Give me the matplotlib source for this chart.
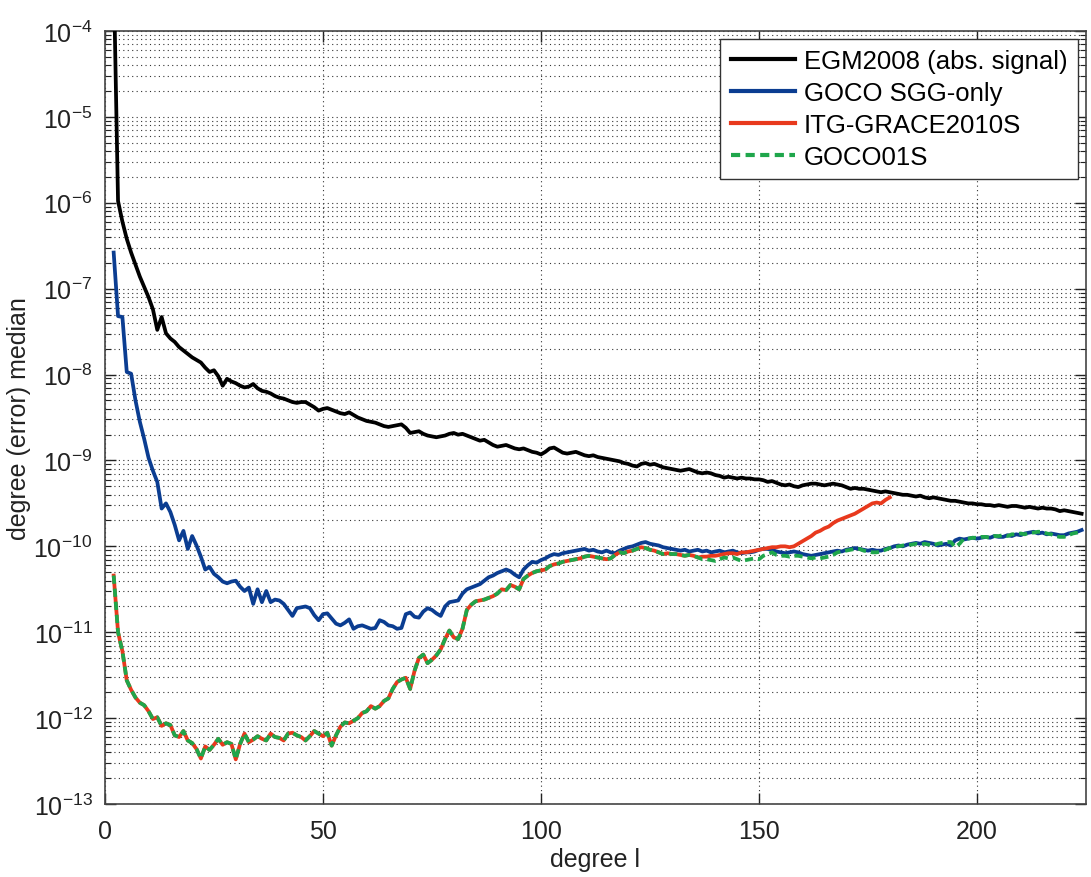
import numpy as np
import matplotlib
matplotlib.use("Agg")
import matplotlib.pyplot as plt
from matplotlib.ticker import FixedLocator, NullFormatter, LogFormatterSciNotation

# ---- data (log10 of degree (error) median), degrees start at 2 ----
egm2008_log = [
    -3.30, -5.98, -6.22, -6.42, -6.58, -6.72, -6.86, -6.98, -7.10, -7.24,
    -7.48, -7.33, -7.52, -7.58, -7.62, -7.68, -7.72, -7.76, -7.80, -7.83,
    -7.86, -7.92, -7.97, -7.95, -8.02, -8.13, -8.05, -8.08, -8.10, -8.13,
    -8.15, -8.14, -8.11, -8.16, -8.19, -8.20, -8.22, -8.25, -8.27, -8.28,
    -8.30, -8.32, -8.33, -8.32, -8.32, -8.35, -8.38, -8.42, -8.40, -8.39,
    -8.41, -8.43, -8.45, -8.46, -8.44, -8.47, -8.50, -8.52, -8.54, -8.55,
    -8.56, -8.58, -8.60, -8.61, -8.60, -8.59, -8.58, -8.62, -8.68, -8.67,
    -8.66, -8.69, -8.71, -8.72, -8.73, -8.72, -8.71, -8.69, -8.68, -8.70,
    -8.69, -8.71, -8.73, -8.75, -8.77, -8.76, -8.79, -8.82, -8.84, -8.83,
    -8.82, -8.84, -8.86, -8.87, -8.86, -8.88, -8.90, -8.91, -8.93, -8.90,
    -8.86, -8.85, -8.88, -8.91, -8.92, -8.91, -8.90, -8.92, -8.94, -8.95,
    -8.94, -8.96, -8.97, -8.98, -8.99, -9.00, -9.01, -9.03, -9.04, -9.06,
    -9.07, -9.04, -9.03, -9.05, -9.04, -9.06, -9.08, -9.09, -9.10, -9.11,
    -9.12, -9.11, -9.10, -9.12, -9.14, -9.15, -9.14, -9.15, -9.17, -9.18,
    -9.20, -9.19, -9.20, -9.21, -9.20, -9.21, -9.21, -9.22, -9.22, -9.23,
    -9.25, -9.24, -9.26, -9.28, -9.29, -9.28, -9.30, -9.31, -9.29, -9.28,
    -9.27, -9.27, -9.28, -9.29, -9.28, -9.27, -9.28, -9.29, -9.31, -9.33,
    -9.32, -9.33, -9.33, -9.34, -9.35, -9.36, -9.37, -9.36, -9.37, -9.38,
    -9.39, -9.40, -9.40, -9.41, -9.42, -9.41, -9.43, -9.44, -9.43, -9.44,
    -9.45, -9.46, -9.47, -9.47, -9.48, -9.49, -9.50, -9.50, -9.51, -9.51,
    -9.52, -9.52, -9.53, -9.52, -9.53, -9.54, -9.53, -9.53, -9.54, -9.55,
    -9.54, -9.55, -9.56, -9.55, -9.56, -9.56, -9.57, -9.59, -9.58, -9.59,
    -9.60, -9.61, -9.62,
]

goco_sgg_log = [
    -6.58, -7.32, -7.33, -7.97, -7.99, -8.30, -8.55, -8.75, -8.97, -9.12,
    -9.25, -9.56, -9.50, -9.60, -9.75, -9.93, -9.82, -10.03, -9.88, -9.99,
    -10.12, -10.27, -10.24, -10.32, -10.36, -10.41, -10.43, -10.41, -10.40, -10.47,
    -10.52, -10.48, -10.67, -10.50, -10.65, -10.52, -10.65, -10.62, -10.63, -10.67,
    -10.74, -10.81, -10.72, -10.71, -10.70, -10.72, -10.80, -10.86, -10.79, -10.78,
    -10.84, -10.90, -10.92, -10.89, -10.85, -10.96, -10.93, -10.92, -10.94, -10.96,
    -10.95, -10.86, -10.88, -10.92, -10.93, -10.96, -10.95, -10.79, -10.77, -10.82,
    -10.83, -10.76, -10.72, -10.74, -10.78, -10.81, -10.70, -10.65, -10.64, -10.63,
    -10.55, -10.50, -10.48, -10.46, -10.44, -10.40, -10.36, -10.34, -10.31, -10.29,
    -10.27, -10.29, -10.33, -10.36, -10.27, -10.22, -10.18, -10.19, -10.16, -10.14,
    -10.11, -10.09, -10.10, -10.08, -10.07, -10.06, -10.05, -10.04, -10.03, -10.05,
    -10.04, -10.06, -10.07, -10.05, -10.07, -10.08, -10.05, -10.03, -10.01, -10.00,
    -9.98, -9.96, -9.95, -9.97, -9.98, -9.99, -10.01, -10.02, -10.03, -10.04,
    -10.05, -10.04, -10.06, -10.05, -10.04, -10.06, -10.05, -10.07, -10.06, -10.05,
    -10.07, -10.06, -10.05, -10.07, -10.08, -10.07, -10.07, -10.06, -10.04, -10.03,
    -10.03, -10.04, -10.06, -10.07, -10.08, -10.07, -10.06, -10.07, -10.09, -10.10,
    -10.11, -10.10, -10.09, -10.08, -10.07, -10.06, -10.05, -10.06, -10.04, -10.03,
    -10.02, -10.03, -10.04, -10.05, -10.04, -10.05, -10.05, -10.03, -10.02, -10.00,
    -9.99, -10.00, -9.98, -9.97, -9.96, -9.97, -9.95, -9.96, -9.97, -9.99,
    -9.98, -9.97, -9.99, -9.93, -9.91, -9.92, -9.91, -9.90, -9.91, -9.90,
    -9.89, -9.90, -9.88, -9.89, -9.89, -9.87, -9.88, -9.86, -9.87, -9.85,
    -9.84, -9.83, -9.85, -9.84, -9.86, -9.85, -9.86, -9.87, -9.87, -9.85,
    -9.84, -9.83, -9.81,
]

goco01s_log = [
    -10.34, -11.00, -11.22, -11.56, -11.67, -11.76, -11.82, -11.85, -11.92, -12.01,
    -11.99, -12.09, -12.06, -12.08, -12.20, -12.22, -12.15, -12.26, -12.29, -12.36,
    -12.47, -12.33, -12.37, -12.31, -12.24, -12.31, -12.28, -12.30, -12.48, -12.30,
    -12.18, -12.28, -12.25, -12.21, -12.24, -12.26, -12.18, -12.22, -12.23, -12.26,
    -12.18, -12.17, -12.20, -12.22, -12.26, -12.21, -12.15, -12.18, -12.21, -12.17,
    -12.32, -12.20, -12.10, -12.05, -12.06, -12.03, -12.00, -11.94, -11.92, -11.86,
    -11.89, -11.86, -11.80, -11.77, -11.66, -11.58, -11.55, -11.53, -11.66, -11.45,
    -11.30, -11.26, -11.36, -11.32, -11.27, -11.20, -11.08, -10.98, -11.06, -11.08,
    -10.96, -10.74, -10.68, -10.64, -10.63, -10.62, -10.60, -10.58, -10.55, -10.50,
    -10.51, -10.45, -10.47, -10.50, -10.38, -10.34, -10.31, -10.29, -10.28, -10.27,
    -10.23, -10.21, -10.20, -10.18, -10.17, -10.16, -10.15, -10.14, -10.12, -10.11,
    -10.12, -10.13, -10.14, -10.15, -10.14, -10.10, -10.07, -10.08, -10.06, -10.05,
    -10.03, -10.01, -10.02, -10.04, -10.05, -10.07, -10.09, -10.08, -10.09, -10.09,
    -10.10, -10.11, -10.10, -10.11, -10.13, -10.15, -10.15, -10.16, -10.17, -10.15,
    -10.13, -10.14, -10.13, -10.15, -10.17, -10.16, -10.15, -10.14, -10.15, -10.11,
    -10.09, -10.07, -10.10, -10.11, -10.11, -10.12, -10.11, -10.11, -10.12, -10.13,
    -10.14, -10.13, -10.14, -10.13, -10.12, -10.10, -10.07, -10.06, -10.05, -10.04,
    -10.03, -10.03, -10.05, -10.06, -10.07, -10.07, -10.06, -10.04, -10.02, -10.01,
    -10.00, -9.99, -9.98, -9.98, -9.97, -9.98, -9.97, -9.98, -9.99, -9.97,
    -9.96, -9.95, -9.95, -10.01, -9.97, -9.91, -9.91, -9.90, -9.90, -9.89,
    -9.89, -9.90, -9.88, -9.88, -9.87, -9.88, -9.86, -9.86, -9.85, -9.86,
    -9.84, -9.84, -9.83, -9.83, -9.85, -9.86, -9.88, -9.89, -9.89, -9.87,
    -9.85, -9.84, -9.83,
]

# ITG-GRACE2010S: identical to GOCO01S up to degree 136, then its own tail to degree 180
itg_grace_tail_log = [
    -10.12, -10.12, -10.11, -10.11,
    -10.10, -10.09, -10.08, -10.08, -10.09, -10.07, -10.07, -10.06, -10.05, -10.04,
    -10.03, -10.02, -10.01, -10.01, -10.00, -10.00, -10.01, -10.00, -9.97, -9.94,
    -9.91, -9.88, -9.84, -9.82, -9.79, -9.77, -9.73, -9.70, -9.68, -9.66,
    -9.64, -9.62, -9.59, -9.56, -9.53, -9.50, -9.49, -9.50, -9.46, -9.43,
]
itg_grace_log = goco01s_log[:135] + itg_grace_tail_log

labels = ["EGM2008 (abs. signal)", "GOCO SGG-only", "ITG-GRACE2010S", "GOCO01S"]
x_ticks = [0, 50, 100, 150, 200]
y_decades = list(range(-13, -3))


def deg(vals):
    return np.arange(2, 2 + len(vals))


def val(vals):
    return np.power(10.0, np.asarray(vals))


plt.rcParams["font.family"] = ["Liberation Sans", "DejaVu Sans"]
plt.rcParams["mathtext.fontset"] = "custom"
plt.rcParams["mathtext.rm"] = "Liberation Sans"
plt.rcParams["mathtext.it"] = "Liberation Sans"

fig = plt.figure(figsize=(10.91, 8.78), dpi=100)
ax = fig.add_axes([0.0962, 0.0831, 0.8992, 0.8805])

lw = 2.7
h_black, = ax.plot(deg(egm2008_log), val(egm2008_log), color="#000000", lw=lw, zorder=4)
h_blue, = ax.plot(deg(goco_sgg_log), val(goco_sgg_log), color="#0b3d91", lw=lw, zorder=3)
h_red, = ax.plot(deg(itg_grace_log), val(itg_grace_log), color="#e8391d", lw=lw, zorder=5)
h_green, = ax.plot(deg(goco01s_log), val(goco01s_log), color="#1fa64b", lw=lw,
                   linestyle=(0, (2.2, 1.3)), zorder=6)

ax.set_yscale("log")
ax.set_xlim(0, 225)
ax.set_ylim(1e-13, 1e-4)

major_y = [10.0 ** e for e in y_decades]
minor_y = [m * 10.0 ** e for e in y_decades[:-1] for m in range(2, 10)]
ax.yaxis.set_major_locator(FixedLocator(major_y))
ax.yaxis.set_minor_locator(FixedLocator(minor_y))
ax.yaxis.set_major_formatter(LogFormatterSciNotation())
ax.yaxis.set_minor_formatter(NullFormatter())
ax.xaxis.set_major_locator(FixedLocator(x_ticks))

ax.grid(True, which="major", axis="both", linestyle=(0, (1, 3)), color="#333333", lw=0.8)
ax.grid(True, which="minor", axis="y", linestyle=(0, (1, 3)), color="#333333", lw=0.8)

ax.tick_params(which="both", direction="in", top=True, right=True,
               labelsize=18, colors="#222222")
ax.tick_params(axis="y", which="major", pad=9)
ax.tick_params(axis="x", which="major", pad=11)
ax.tick_params(which="major", length=8, width=1)
ax.tick_params(which="minor", length=4.5, width=0.8)
for sp in ax.spines.values():
    sp.set_color("#444444")
    sp.set_linewidth(1.2)

ax.set_xlabel("degree l", fontsize=18, color="#222222", labelpad=3)
ax.set_ylabel("degree (error) median", fontsize=18, color="#222222", labelpad=2)

leg = ax.legend([h_black, h_blue, h_red, h_green], labels, loc="upper right",
                fontsize=18.5, frameon=True, fancybox=False, framealpha=1,
                handlelength=2.5, handletextpad=0.35, labelspacing=0.3,
                borderpad=0.42, borderaxespad=0.3)
leg.get_frame().set_edgecolor("#333333")
leg.get_frame().set_linewidth(1.0)
for line in leg.get_lines():
    line.set_linewidth(3)

fig.savefig("out.png", dpi=100)
